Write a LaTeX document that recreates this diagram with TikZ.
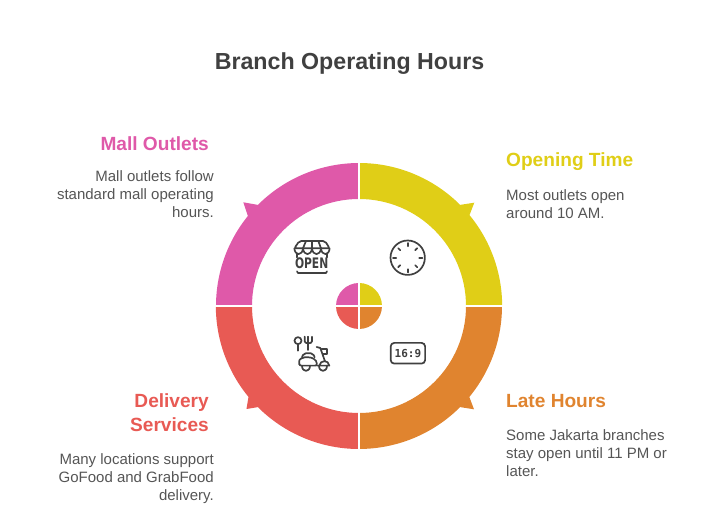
\documentclass[tikz,border=0pt]{standalone}
\usepackage{fontspec}
\setmainfont{Liberation Sans}
\newfontfamily\iconmono{DejaVu Sans Mono}
\newfontfamily\iconsans{DejaVu Sans}
\definecolor{mallpink}{HTML}{DF59A9}
\definecolor{openyellow}{HTML}{E0CE17}
\definecolor{lateorange}{HTML}{E0842F}
\definecolor{deliveryred}{HTML}{E85A54}
\definecolor{inkgray}{HTML}{404040}
\definecolor{textgray}{HTML}{555555}
\tikzset{
    heading/.style={inner sep=0pt, font=\fontsize{19.1}{24}\selectfont\bfseries},
    blurb/.style={inner sep=0pt, text=textgray, font=\fontsize{15}{18}\selectfont},
    icon/.style={draw=inkgray, line width=1.7pt, line cap=round, line join=round},
}
\begin{document}
\begin{tikzpicture}[x=1pt,y=1pt]
    \useasboundingbox (-359,-207) rectangle (361,306);
    % ring
    \fill[mallpink] (-143,0) arc (180:141:143) -- (-115.7,103.7) -- (-101.1,101.1) arc (135:90:143) -- (0,107) arc (90:180:107) -- cycle;
    \fill[openyellow] (0,143) arc (90:45:143) -- (115.3,103.3) -- (110.5,90.9) arc (39.5:0:143) -- (107,0) arc (0:90:107) -- cycle;
    \fill[lateorange] (143,0) arc (0:-39.5:143) -- (115,-103.3) -- (101.1,-101.1) arc (-45:-90:143) -- (0,-107) arc (-90:0:107) -- cycle;
    \fill[deliveryred] (0,-143) arc (270:225:143) -- (-112.5,-103) -- (-110.5,-90.9) arc (219.5:180:143) -- (-107,0) arc (180:270:107) -- cycle;
    % middle
    \fill[mallpink] (0,0) -- (-23,0) arc (180:90:23) -- cycle;
    \fill[openyellow] (0,0) -- (0,23) arc (90:0:23) -- cycle;
    \fill[lateorange] (0,0) -- (23,0) arc (0:-90:23) -- cycle;
    \fill[deliveryred] (0,0) -- (0,-23) arc (270:180:23) -- cycle;
    \draw[white, line width=2pt] (-144,0) -- (144,0);
    \draw[white, line width=2pt] (0,-144) -- (0,144);
    % clock
    \draw[icon] (48.7,48.3) circle (17.2);
    \foreach \a in {0,90,180,270}
        \draw[icon] (48.7,48.3) ++(\a:11.5) -- ++(\a:3.2);
    \foreach \a in {45,135,225,315}
        \draw[icon] (48.7,48.3) ++(\a:10.5) -- ++(\a:3);
    % 16:9
    \draw[icon, rounded corners=3.5pt] (31.7,-36.9) rectangle (66.1,-57.6);
    \node[inner sep=0pt, text=inkgray, font=\fontsize{11}{11}\selectfont\iconmono\bfseries] (wide) at (48.9,-47.4) {16:9};
    % shop
    \begin{scope}[shift={(-89,86)},x=0.3333pt,y=-0.3333pt]
        \draw[icon, rounded corners=2pt] (73,85) -- (88,63) -- (165,63) -- (179,85) -- cycle;
        \draw[icon] (73,85) .. controls (75,108) and (97,108) .. (99,85);
        \draw[icon] (99,85) .. controls (101,108) and (124,108) .. (126,85);
        \draw[icon] (126,85) .. controls (128,108) and (151,108) .. (153,85);
        \draw[icon] (153,85) .. controls (155,108) and (177,108) .. (179,85);
        \draw[icon] (108,63) -- (99,85);
        \draw[icon] (126,63) -- (126,85);
        \draw[icon] (145,63) -- (153,85);
        \draw[icon] (82,102) -- (82,112);
        \draw[icon] (170,102) -- (170,112);
        \node[inner sep=0pt, text=inkgray, xscale=0.74, font=\fontsize{14.5}{15}\selectfont\iconsans\bfseries] (shopword) at (125,131) {OPEN};
        \draw[icon] (81,154) -- (84,159) -- (168,159) -- (171,154);
    \end{scope}
    % scooter
    \begin{scope}[shift={(-89,86)},x=0.3333pt,y=-0.3333pt]
        \draw[icon] (84,362) circle (10.5);
        \draw[icon] (84,373) -- (84,392);
        \draw[icon] (104,350) -- (104,364) .. controls (104,372) and (126,372) .. (126,364) -- (126,350);
        \draw[icon] (115,350) -- (115,390);
        \draw[icon, rounded corners=2pt] (96,412) -- (101,400) -- (129,400) -- (134,412);
        \draw[icon, rounded corners=2pt] (88,437) -- (88,428) .. controls (88,418) and (98,412) .. (110,412) .. controls (125,412) and (140,418) .. (141,437) -- cycle;
        \draw[icon] (96,437) .. controls (96,458) and (120,458) .. (120,437);
        \draw[icon] (141,437) -- (148,437) .. controls (150,420) and (176,418) .. (178,437) -- cycle;
        \draw[icon] (147,437) .. controls (147,458) and (171,458) .. (171,437);
        \draw[icon] (140,381) -- (151,384) -- (165,424);
        \draw[icon] (155,386) -- (172,386) -- (172,401) -- (159,401);
    \end{scope}
    % labels
    \node[anchor=center, inner sep=0pt, text=inkgray, font=\fontsize{23.2}{28}\selectfont\bfseries] (title) at (-9.5,242.5) {Branch Operating Hours};
    \node[heading, text=mallpink, anchor=east] (mallhead) at (-150,162.5) {Mall Outlets};
    \node[blurb, anchor=north east, align=right] (malltext) at (-145,136) {Mall outlets follow\\standard mall operating\\hours.};
    \node[heading, text=openyellow, anchor=west] (openhead) at (147,144) {Opening Time};
    \node[blurb, anchor=north west, align=left] (opentext) at (147,116.5) {Most outlets open\\around 10 AM.};
    \node[heading, text=lateorange, anchor=west] (latehead) at (147,-95.5) {Late Hours};
    \node[blurb, anchor=north west, align=left] (latetext) at (147,-123) {Some Jakarta branches\\stay open until 11 PM or\\later.};
    \node[heading, text=deliveryred, anchor=north east, align=right] (deliveryhead) at (-150,-87.5) {Delivery\\Services};
    \node[blurb, anchor=north east, align=right] (deliverytext) at (-145,-147) {Many locations support\\GoFood and GrabFood\\delivery.};
\end{tikzpicture}
\end{document}
